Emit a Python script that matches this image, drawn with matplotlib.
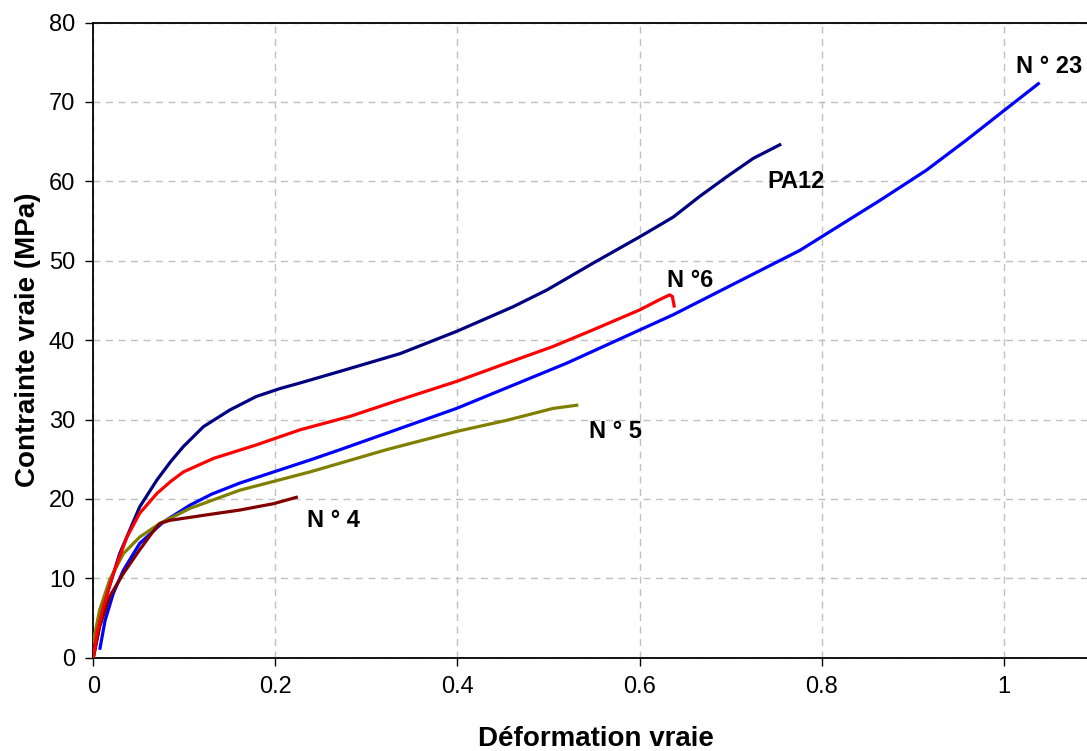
import matplotlib
matplotlib.use("Agg")
import matplotlib.pyplot as plt

plt.rcParams['font.family'] = ['Liberation Sans', 'DejaVu Sans']

# PA12 (navy)
pa12_x = [0.0, 0.011, 0.029, 0.051, 0.070, 0.085, 0.099, 0.121, 0.150, 0.179, 0.205, 0.227, 0.275,
          0.337, 0.399, 0.461, 0.498, 0.549, 0.600, 0.637, 0.666, 0.696, 0.725, 0.754]
pa12_y = [0.0, 6.5, 13.1, 19.0, 22.4, 24.7, 26.6, 29.1, 31.2, 32.9, 33.9, 34.6, 36.2,
          38.3, 41.1, 44.2, 46.3, 49.7, 53.0, 55.5, 58.1, 60.6, 62.9, 64.6]

# N°6 (red)
n6_x = [0.0, 0.004, 0.011, 0.022, 0.037, 0.051, 0.070, 0.085, 0.099, 0.132, 0.179, 0.227,
        0.282, 0.337, 0.399, 0.454, 0.505, 0.549, 0.600, 0.622, 0.633, 0.636, 0.638]
n6_y = [0.0, 3.1, 6.4, 10.6, 15.2, 18.2, 20.7, 22.2, 23.4, 25.1, 26.8, 28.7,
        30.4, 32.5, 34.8, 37.1, 39.2, 41.3, 43.8, 45.1, 45.7, 45.5, 44.3]

# N°23 (blue)
n23_x = [0.0074, 0.013, 0.022, 0.033, 0.051, 0.077, 0.106, 0.130, 0.161, 0.238, 0.271,
         0.399, 0.520, 0.637, 0.776, 0.864, 0.915, 0.959, 0.999, 1.038]
n23_y = [1.2, 4.7, 8.1, 11.0, 14.4, 17.1, 19.2, 20.6, 22.0, 24.9, 26.2,
         31.4, 37.1, 43.2, 51.3, 57.6, 61.4, 65.2, 68.8, 72.3]

# N°5 (olive)
n5_x = [0.0, 0.007, 0.018, 0.033, 0.051, 0.073, 0.106, 0.161, 0.238, 0.322,
        0.399, 0.454, 0.505, 0.531]
n5_y = [2.0, 6.0, 9.8, 13.1, 15.2, 16.9, 18.8, 21.1, 23.4, 26.2,
        28.5, 29.9, 31.4, 31.8]

# N°4 (dark red)
n4_x = [0.0, 0.007, 0.018, 0.033, 0.051, 0.065, 0.073, 0.084, 0.125, 0.161, 0.198, 0.223]
n4_y = [0.0, 3.9, 7.7, 10.6, 13.6, 15.8, 16.9, 17.3, 18.0, 18.6, 19.4, 20.2]

labels = ["PA12", "N °6", "N ° 23", "N ° 5", "N ° 4"]
label_pos = [(0.740, 60.0), (0.630, 47.5), (1.013, 74.5), (0.545, 28.5), (0.235, 17.3)]

xticks = [0, 0.2, 0.4, 0.6, 0.8, 1.0]
xticklabels = ["0", "0.2", "0.4", "0.6", "0.8", "1"]
yticks = [0, 10, 20, 30, 40, 50, 60, 70, 80]

fig = plt.figure(figsize=(10.87, 7.51), dpi=100)
ax = fig.add_axes([0.0858, 0.1242, 1.0 - 0.0858, 0.970 - 0.1242])

lw = 2.3
ax.plot(pa12_x, pa12_y, color='#000080', lw=lw, zorder=3)
ax.plot(n23_x, n23_y, color='#0000FF', lw=lw, zorder=3)
ax.plot(n5_x, n5_y, color='#808000', lw=lw, zorder=3)
ax.plot(n4_x, n4_y, color='#800000', lw=lw, zorder=3)
ax.plot(n6_x, n6_y, color='#FF0000', lw=lw, zorder=4)

for t, (x, y) in zip(labels, label_pos):
    ax.text(x, y, t, fontsize=17, fontweight='bold', ha='left', va='center')

ax.set_xlim(0, 1.0914)
ax.set_ylim(0, 80)
ax.set_xticks(xticks)
ax.set_xticklabels(xticklabels)
ax.set_yticks(yticks)
ax.tick_params(axis='both', direction='out', length=6, width=1, labelsize=17, pad=7)
ax.grid(True, color='#c0c0c0', linestyle=(0, (5, 4)), linewidth=1)
ax.set_axisbelow(True)
for s in ['left', 'bottom', 'top']:
    ax.spines[s].set_linewidth(1.3)
ax.spines['right'].set_visible(False)

ax.set_xlabel("Déformation vraie", fontsize=20, fontweight='bold')
ax.set_ylabel("Contrainte vraie (MPa)", fontsize=20, fontweight='bold')
ax.xaxis.set_label_coords(0.506, -0.128)
ax.yaxis.set_label_coords(-0.066, 0.5)
ax.xaxis.label.set_va('center')
ax.yaxis.label.set_va('center')

fig.savefig("out.png", dpi=100)
